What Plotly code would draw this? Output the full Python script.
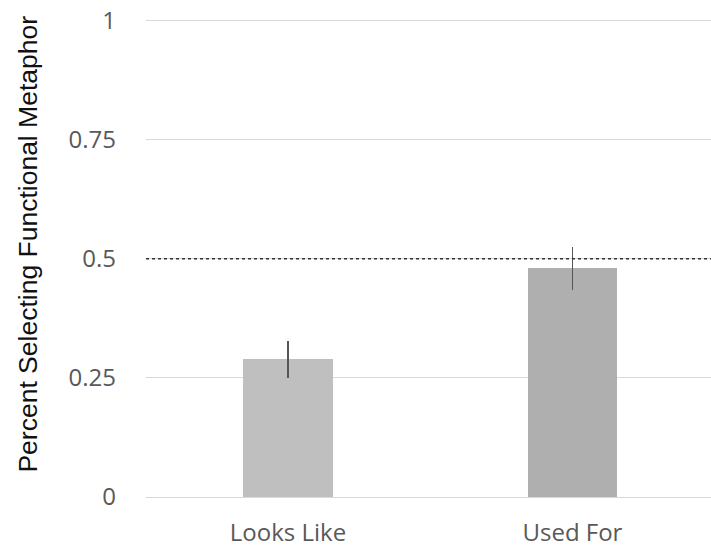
import plotly.graph_objects as go

categories = ["Looks Like", "Used For"]
values = [0.289, 0.480]
errors = [0.039, 0.045]
bar_colors = ["#bfbfbf", "#afafaf"]
y_ticks = [0, 0.25, 0.5, 0.75, 1]
y_tick_labels = ["0", "0.25", "0.5", "0.75", "1"]
chance_level = 0.5

fig = go.Figure()
fig.add_trace(go.Bar(
    x=categories, y=values,
    marker=dict(color=bar_colors, line=dict(width=0)),
    width=0.316,
    error_y=dict(type="data", array=errors, visible=True,
                 color="#555555", thickness=1.3, width=0),
))

fig.add_shape(type="line", xref="paper", yref="y", x0=0, x1=1,
              y0=chance_level, y1=chance_level,
              line=dict(color="#333333", width=1.5, dash="dot"))

fig.add_annotation(text="Percent Selecting Functional Metaphor",
                   xref="paper", yref="paper", x=-0.209, y=0.53,
                   textangle=-90, showarrow=False,
                   font=dict(family="Liberation Sans, Arial", size=26.5, color="#111111"),
                   xanchor="center", yanchor="middle")

fig.update_layout(
    width=711, height=548,
    margin=dict(l=146, r=0, t=19, b=51, autoexpand=False),
    plot_bgcolor="white", paper_bgcolor="white",
    showlegend=False,
    bargap=0,
    xaxis=dict(showline=False, showgrid=False, zeroline=False, ticks="",
               automargin=False, range=[-0.499, 1.487],
               tickfont=dict(family="Open Sans", size=24, color="#595959"),
               ticklabelstandoff=19),
    yaxis=dict(range=[0, 1.003], tickvals=y_ticks, ticktext=y_tick_labels,
               automargin=False,
               showgrid=True, gridcolor="#d9d9d9", gridwidth=1,
               zeroline=True, zerolinecolor="#d9d9d9", zerolinewidth=1,
               showline=False, ticks="",
               tickfont=dict(family="Open Sans", size=24, color="#595959"),
               ticklabelstandoff=29, ticklabeloverflow="allow"),
)

fig.write_html("out.html", config={"displayModeBar": False},
               post_script="document.body.style.margin='0';")
